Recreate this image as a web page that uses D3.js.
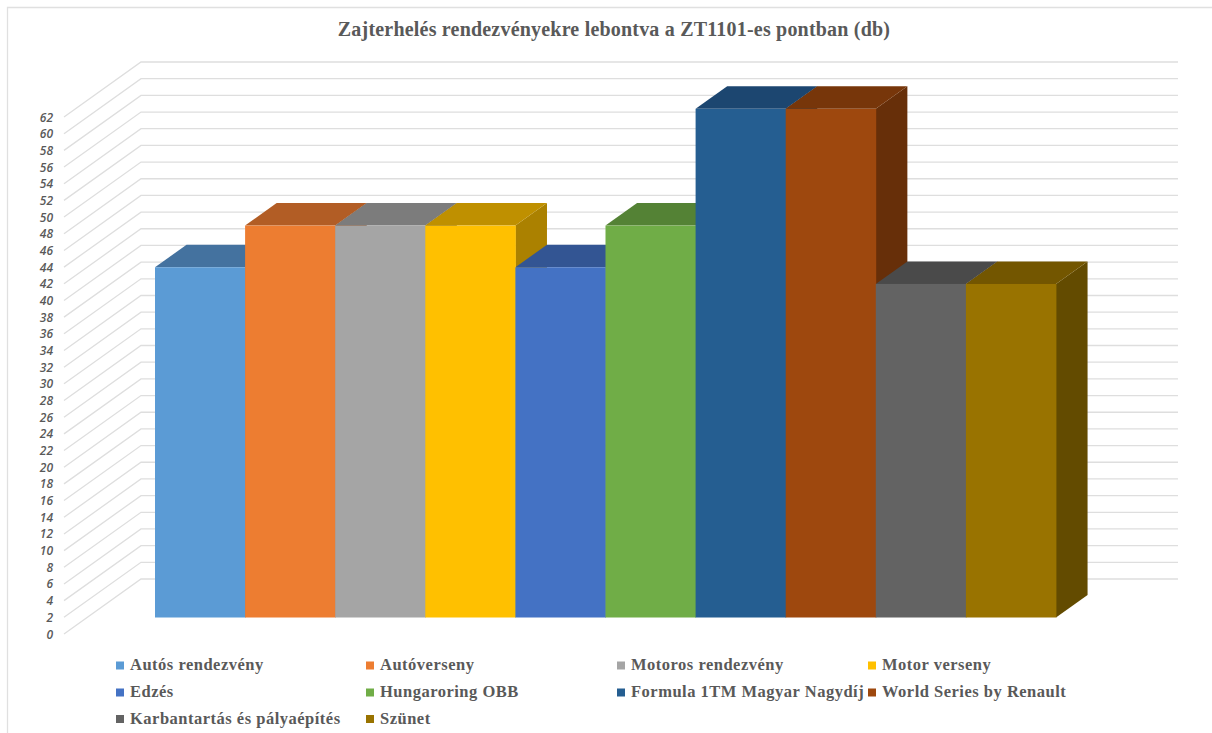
<!DOCTYPE html>
<html>
<head>
<meta charset="utf-8">
<script src="https://cdn.jsdelivr.net/npm/d3@7/dist/d3.min.js"></script>
<style>
  html, body { margin: 0; padding: 0; background: #fff; }
  svg { display: block; }
</style>
</head>
<body>
<svg id="chart" width="1212" height="733"></svg>
<script>
const chartTitle = "Zajterhelés rendezvényekre lebontva a ZT1101-es pontban (db)";
const categories = [
  "Autós rendezvény", "Autóverseny", "Motoros rendezvény", "Motor verseny", "Edzés",
  "Hungaroring OBB", "Formula 1TM Magyar Nagydíj", "World Series by Renault",
  "Karbantartás és pályaépítés", "Szünet"
];
const values = [42, 47, 47, 47, 42, 47, 61, 61, 40, 40];
const frontColors = ["#5b9bd5", "#ed7d31", "#a5a5a5", "#ffc000", "#4472c4", "#70ad47", "#255e91", "#9e480e", "#636363", "#997300"];
const topColors = ["#44729f", "#b25d25", "#7c7c7c", "#bf9000", "#335593", "#548235", "#1c4670", "#77360a", "#4a4a4a", "#735600"];
const sideColors = ["#3d668f", "#9f5421", "#6f6f6f", "#ab8100", "#2e4d84", "#4b7530", "#194064", "#672f09", "#434343", "#634b00"];
const tickValues = d3.range(0, 63, 2);
const legendRows = [[0, 1, 2, 3], [4, 5, 6, 7], [8, 9]];
const legendColumns = [116, 366, 617, 868];
const legendLines = [665.5, 692.5, 719];

const svg = d3.select("#chart");

// Front edge of the floor carries the value scale; depth shifts a point up and to the right.
const y = d3.scaleLinear().domain([0, 62]).range([634, 117]);
const depthX = d3.scaleLinear().domain([0, 1]).range([0, 77]);
const depthY = d3.scaleLinear().domain([0, 1]).range([0, -55]);

const barFront = 0.3, barBack = 0.71;
const x = d3.scaleBand().domain(categories)
  .range([155 - depthX(barFront), 1056 - depthX(barFront)]).padding(0);

const wallLeft = 64, wallRight = 1178;

// Screen position of a value at a given horizontal position and depth.
const pt = (px, v, depth) => [px + depthX(depth), y(v) + depthY(depth)];

// Chart frame
svg.append("path")
  .attr("d", "M7.5,733V7.5H1212")
  .attr("fill", "none").attr("stroke", "#e0e0e0").attr("stroke-width", 1.3);

svg.append("text")
  .attr("x", 614).attr("y", 36)
  .attr("text-anchor", "middle")
  .attr("font-family", "'Liberation Serif', serif")
  .attr("font-weight", "bold").attr("font-size", 20)
  .attr("letter-spacing", 0.2)
  .attr("fill", "#595959")
  .text(chartTitle);

// Side-wall and back-wall gridlines
const grid = svg.append("g").attr("fill", "none").attr("stroke", "#dedede").attr("stroke-width", 1.3);
grid.selectAll("path").data(tickValues).join("path")
  .attr("d", v => d3.line()([pt(wallLeft, v, 0), pt(wallLeft, v, 1), pt(wallRight - depthX(1), v, 1)]));

// Value axis labels
svg.append("g").selectAll("text").data(tickValues).join("text")
  .attr("x", 53).attr("y", v => y(v) + 4.5)
  .attr("text-anchor", "end")
  .attr("font-family", "'Open Sans', sans-serif")
  .attr("font-style", "italic").attr("font-weight", 600).attr("font-size", 12)
  .attr("fill", "#595959")
  .text(v => v);

// Bars: right-hand sides first so neighbouring fronts overlap them
const bars = svg.append("g").selectAll("g").data(categories.map((c, i) => i)).join("g");
bars.append("path")
  .attr("fill", i => sideColors[i])
  .attr("d", i => {
    const r = x(categories[i]) + x.bandwidth();
    return d3.line()([pt(r, 0, barFront), pt(r, 0, barBack), pt(r, values[i], barBack), pt(r, values[i], barFront)]) + "Z";
  });
bars.append("path")
  .attr("fill", i => topColors[i])
  .attr("d", i => {
    const l = x(categories[i]), r = l + x.bandwidth();
    return d3.line()([pt(l, values[i], barFront), pt(l, values[i], barBack), pt(r, values[i], barBack), pt(r, values[i], barFront)]) + "Z";
  });
svg.append("g").selectAll("rect").data(categories.map((c, i) => i)).join("rect")
  .attr("x", i => pt(x(categories[i]), 0, barFront)[0])
  .attr("width", x.bandwidth() + 0.4)
  .attr("y", i => pt(0, values[i], barFront)[1])
  .attr("height", i => y(0) - y(values[i]))
  .attr("fill", i => frontColors[i]);

// Legend
const legend = svg.append("g");
legendRows.forEach((row, r) => row.forEach((idx, c) => {
  const g = legend.append("g").attr("transform", `translate(${legendColumns[c]},${legendLines[r]})`);
  g.append("rect").attr("x", 0).attr("y", -4).attr("width", 8).attr("height", 8).attr("fill", frontColors[idx]);
  g.append("text").attr("x", 14).attr("y", 4.5)
    .attr("font-family", "'Liberation Serif', serif")
    .attr("font-weight", "bold").attr("font-size", 16.5)
    .attr("letter-spacing", 0.5)
    .attr("fill", "#595959")
    .text(categories[idx]);
}));
</script>
</body>
</html>
